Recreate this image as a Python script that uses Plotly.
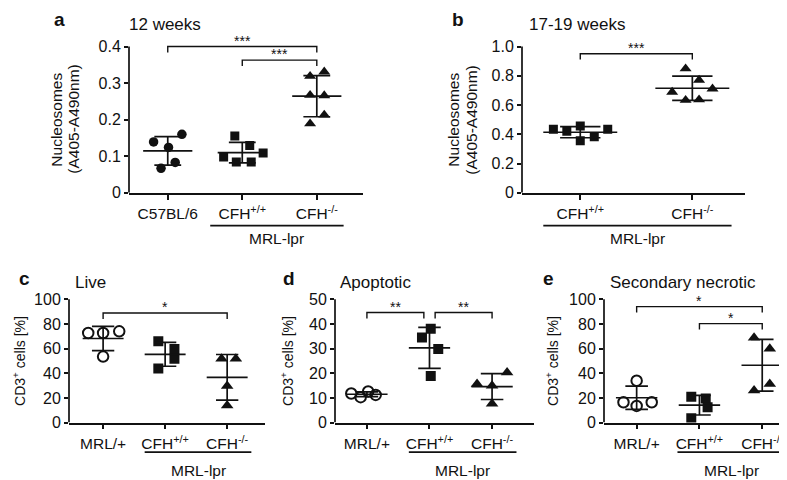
import numpy as np
import plotly.graph_objects as go

W, H = 787, 480
FONT = "Liberation Sans, Arial, Helvetica, sans-serif"
INK = "#111111"

# ---------------- data ----------------
a_groups = ["C57BL/6", "CFH<sup>+/+</sup>", "CFH<sup>-/-</sup>"]
a_c57 = [0.139, 0.160, 0.124, 0.083, 0.067]
a_wt = [0.155, 0.129, 0.098, 0.109, 0.084, 0.084]
a_ko = [0.319, 0.331, 0.267, 0.266, 0.213, 0.189]
a_yticks = [0, 0.1, 0.2, 0.3, 0.4]
a_yticktext = ["0", "0.1", "0.2", "0.3", "0.4"]

b_groups = ["CFH<sup>+/+</sup>", "CFH<sup>-/-</sup>"]
b_wt = [0.435, 0.420, 0.456, 0.355, 0.383, 0.435]
b_ko = [0.849, 0.771, 0.689, 0.711, 0.633, 0.637]
b_yticks = [0, 0.2, 0.4, 0.6, 0.8, 1.0]
b_yticktext = ["0", "0.2", "0.4", "0.6", "0.8", "1.0"]

cde_groups = ["MRL/+", "CFH<sup>+/+</sup>", "CFH<sup>-/-</sup>"]
c_mrl = [72.6, 72.6, 74.0, 53.5]
c_wt = [66.0, 59.7, 51.7, 43.8]
c_ko = [51.7, 51.7, 29.7, 13.8]
d_mrl = [11.8, 10.3, 12.6, 11.2]
d_wt = [34.5, 38.0, 29.8, 18.9]
d_ko = [15.6, 14.9, 20.3, 7.6]
e_mrl = [16.5, 13.5, 16.5, 34.0]
e_wt = [21.0, 19.5, 12.5, 3.5]
e_ko = [68.8, 59.8, 31.3, 26.0]
pct100_ticks = [0, 20, 40, 60, 80, 100]
pct50_ticks = [0, 10, 20, 30, 40, 50]

# significance brackets: (left x, right x, height, label)
a_sig = [(0, 2, 0.400, "***"), (1, 2, 0.363, "***")]
b_sig = [(0, 1, 0.951, "***")]
c_sig = [(0, 2, 88.8, "*")]
d_sig = [(0, 0.91, 44.6, "**"), (1.09, 2, 44.6, "**")]
e_sig = [(0, 2, 94.0, "*"), (1, 2, 80.2, "*")]

# horizontal scatter of the dots inside each column (category units)
a_jit = [[-0.19, 0.19, 0.01, 0.10, -0.09],
         [-0.10, 0.10, -0.25, 0.28, -0.08, 0.12],
         [-0.09, 0.10, -0.09, 0.10, 0.10, -0.09]]
b_jit = [[-0.24, -0.12, 0.0, 0.0, 0.125, 0.245],
         [-0.06, 0.06, -0.18, 0.18, -0.06, 0.06]]
c_jit = [[-0.24, 0.0, 0.26, 0.0], [-0.11, 0.15, 0.15, -0.11], [-0.09, 0.14, 0.0, 0.0]]
d_jit = [[-0.25, -0.10, 0.02, 0.14], [-0.12, 0.02, 0.14, 0.02], [-0.24, 0.0, 0.24, 0.0]]
e_jit = [[-0.21, 0.0, 0.24, 0.0], [-0.13, 0.10, 0.13, -0.13], [-0.13, 0.12, 0.12, -0.13]]

# ---------------- layout geometry (pixels) ----------------
panels = [
    dict(key="a", groups=a_groups, vals=[a_c57, a_wt, a_ko], jit=a_jit,
         sym=["circle", "square", "triangle-up"], msize=[9.5, 9, 10.5],
         xpx=(121, 355), xr=(-0.52, 2.62), ybot=188.3, ytop=39.3,
         ticks=a_yticks, ticktext=a_yticktext, sig=a_sig,
         under=(0.57, 2.36), under_y=221.7, mrl_y=235,
         letter=("a", 44, 12), title=("12 weeks", 119, 17),
         ytitle=[("Nucleosomes", 49), ("(A405-A490nm)", 66)], ytfs=15.5),
    dict(key="b", groups=b_groups, vals=[b_wt, b_ko], jit=b_jit,
         sym=["square", "triangle-up"], msize=[9, 10.5],
         xpx=(514, 737), xr=(-0.52, 1.47), ybot=188.3, ytop=39.3,
         ticks=b_yticks, ticktext=b_yticktext, sig=b_sig,
         under=(-0.33, 1.35), under_y=221.7, mrl_y=235,
         letter=("b", 442, 12), title=("17-19 weeks", 519, 17),
         ytitle=[("Nucleosomes", 446), ("(A405-A490nm)", 464)], ytfs=15.5),
    dict(key="c", groups=cde_groups, vals=[c_mrl, c_wt, c_ko], jit=c_jit,
         sym=["circle-open", "square", "triangle-up"], msize=[10.5, 10, 11],
         xpx=(61, 257), xr=(-0.55, 2.61), ybot=422.5, ytop=296.8,
         ticks=pct100_ticks, ticktext=[str(t) for t in pct100_ticks], sig=c_sig,
         under=(0.67, 2.39), under_y=452.7, mrl_y=471,
         letter=("c", 9, 276), title=("Live", 65, 280),
         ytitle=[("CD3<sup>+</sup> cells [%]", 11)], ytfs=14),
    dict(key="d", groups=cde_groups, vals=[d_mrl, d_wt, d_ko], jit=d_jit,
         sym=["circle-open", "square", "triangle-up"], msize=[10.5, 10, 11],
         xpx=(327, 526), xr=(-0.51, 2.67), ybot=422.5, ytop=296.8,
         ticks=pct50_ticks, ticktext=[str(t) for t in pct50_ticks], sig=d_sig,
         under=(0.67, 2.39), under_y=452.7, mrl_y=471,
         letter=("d", 273, 276), title=("Apoptotic", 330, 280),
         ytitle=[("CD3<sup>+</sup> cells [%]", 279)], ytfs=14),
    dict(key="e", groups=cde_groups, vals=[e_mrl, e_wt, e_ko], jit=e_jit,
         sym=["circle-open", "square", "triangle-up"], msize=[10.5, 10, 11],
         xpx=(596, 785), xr=(-0.52, 2.49), ybot=422.5, ytop=296.8,
         ticks=pct100_ticks, ticktext=[str(t) for t in pct100_ticks], sig=e_sig,
         under=(0.65, 2.36), under_y=452.7, mrl_y=471,
         letter=("e", 533, 276), title=("Secondary necrotic", 600, 280),
         ytitle=[("CD3<sup>+</sup> cells [%]", 544)], ytfs=14),
]

EXT = 1.12          # y range extends above the top tick to leave room for brackets
MEAN_HW = 0.33      # half width of mean line (category units)
CAP_HW = 0.18       # half width of SD caps
LW = 1.7

fig = go.Figure()
shapes, annotations = [], []


def px2paper_x(px):
    return px / W


def px2paper_y(py):
    return 1 - py / H


for i, p in enumerate(panels):
    n = i + 1
    xa = "x" if n == 1 else f"x{n}"
    ya = "y" if n == 1 else f"y{n}"
    xkey = "xaxis" if n == 1 else f"xaxis{n}"
    ykey = "yaxis" if n == 1 else f"yaxis{n}"
    tmax = p["ticks"][-1]
    yr_top = tmax * EXT
    ytop_px = p["ybot"] - (p["ybot"] - p["ytop"]) * EXT
    px_per_unit = (p["ybot"] - p["ytop"]) / tmax

    # points
    for g, (vals, jit) in enumerate(zip(p["vals"], p["jit"])):
        sym = p["sym"][g]
        fig.add_trace(go.Scatter(
            x=[g + j for j in jit], y=vals, mode="markers", xaxis=xa, yaxis=ya,
            marker=dict(symbol=sym, size=p["msize"][g], color=INK,
                        line=dict(color=INK, width=2 if "open" in sym else 0)),
            showlegend=False, hoverinfo="skip"))
    # mean +/- SD
    for g, vals in enumerate(p["vals"]):
        m = float(np.mean(vals))
        s = float(np.std(vals, ddof=1))
        xs = [g - MEAN_HW, g + MEAN_HW, None, g, g, None,
              g - CAP_HW, g + CAP_HW, None, g - CAP_HW, g + CAP_HW]
        ys = [m, m, None, m - s, m + s, None, m + s, m + s, None, m - s, m - s]
        fig.add_trace(go.Scatter(x=xs, y=ys, mode="lines", xaxis=xa, yaxis=ya,
                                 line=dict(color=INK, width=LW),
                                 showlegend=False, hoverinfo="skip"))
    # significance brackets
    drop = 6 / px_per_unit
    bx, by = [], []
    for (l, r, h, lab) in p["sig"]:
        bx += [l, l, r, r, None]
        by += [h - drop, h, h, h - drop, None]
        annotations.append(dict(x=(l + r) / 2, y=h, xref=xa, yref=ya, text=lab,
                                showarrow=False, yanchor="middle", yshift=6,
                                font=dict(family=FONT, size=14, color=INK)))
    fig.add_trace(go.Scatter(x=bx, y=by, mode="lines", xaxis=xa, yaxis=ya,
                             line=dict(color=INK, width=1.4),
                             showlegend=False, hoverinfo="skip"))

    # axes
    fig.update_layout({
        xkey: dict(domain=[px2paper_x(p["xpx"][0]), px2paper_x(p["xpx"][1])],
                   range=list(p["xr"]), anchor=ya, showgrid=False, zeroline=False,
                   showline=True, linecolor=INK, linewidth=LW,
                   ticks="outside", ticklen=5, tickwidth=LW, tickcolor=INK,
                   tickvals=list(range(len(p["groups"]))), ticktext=p["groups"],
                   ticklabelstandoff=1,
                   tickfont=dict(family=FONT, size=15.5, color=INK), fixedrange=True),
        ykey: dict(domain=[px2paper_y(p["ybot"]), px2paper_y(ytop_px)],
                   range=[0, yr_top], anchor=xa, showgrid=False, zeroline=False,
                   showline=False, ticks="outside", ticklen=4, tickwidth=LW,
                   tickcolor=INK, tickvals=p["ticks"], ticktext=p["ticktext"],
                   tickfont=dict(family=FONT, size=16, color=INK), fixedrange=True),
    })
    # y axis line only up to top tick
    shapes.append(dict(type="line", xref=f"{xa} domain", yref=ya, x0=0, x1=0,
                       y0=0, y1=tmax, line=dict(color=INK, width=LW)))
    # MRL-lpr underline and label
    u0, u1 = p["under"]
    shapes.append(dict(type="line", xref=xa, yref="paper", x0=u0, x1=u1,
                       y0=px2paper_y(p["under_y"]), y1=px2paper_y(p["under_y"]),
                       line=dict(color=INK, width=LW)))
    annotations.append(dict(x=(u0 + u1) / 2, y=px2paper_y(p["mrl_y"]), xref=xa,
                            yref="paper", text="MRL-lpr", showarrow=False,
                            xanchor="center", yanchor="middle",
                            font=dict(family=FONT, size=15.5, color=INK)))
    # panel letter and title
    lt, lx, ly = p["letter"]
    annotations.append(dict(x=px2paper_x(lx), y=px2paper_y(ly), xref="paper", yref="paper",
                            text=f"<b>{lt}</b>", showarrow=False, xanchor="left",
                            yanchor="middle", font=dict(family=FONT, size=19, color=INK)))
    tt, tx, ty = p["title"]
    annotations.append(dict(x=px2paper_x(tx), y=px2paper_y(ty), xref="paper", yref="paper",
                            text=tt, showarrow=False, xanchor="left", yanchor="middle",
                            font=dict(family=FONT, size=17, color=INK)))
    # y axis title (rotated)
    ymid = (p["ybot"] + p["ytop"]) / 2
    for txt, xpos in p["ytitle"]:
        annotations.append(dict(x=px2paper_x(xpos), y=px2paper_y(ymid), xref="paper",
                                yref="paper", text=txt, showarrow=False, textangle=-90,
                                xanchor="center", yanchor="middle",
                                font=dict(family=FONT, size=p["ytfs"], color=INK)))

fig.update_layout(width=W, height=H, margin=dict(l=0, r=0, t=0, b=0),
                  paper_bgcolor="white", plot_bgcolor="white",
                  shapes=shapes, annotations=annotations, showlegend=False)

fig.write_html("out.html")
